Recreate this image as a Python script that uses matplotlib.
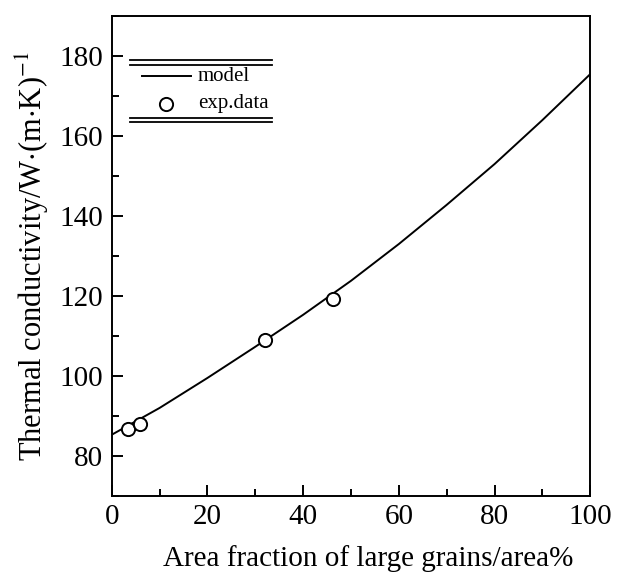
import numpy as np
import matplotlib.pyplot as plt
from matplotlib.lines import Line2D
from matplotlib.ticker import MultipleLocator

# model curve
model_x = [0, 10, 20, 30, 40, 50, 60, 70, 80, 90, 100]
model_y = [85.3, 92.0, 99.5, 107.3, 115.3, 123.8, 133.0, 142.8, 153.0, 164.0, 175.5]

# experimental points
exp_x = [3.4, 5.9, 32.0, 46.3]
exp_y = [86.8, 87.9, 109.0, 119.2]

plt.rcParams["font.family"] = ["Liberation Serif", "DejaVu Serif"]
plt.rcParams["mathtext.fontset"] = "stix"

fig = plt.figure(figsize=(6.24, 5.74), dpi=100)
ax = fig.add_axes([0.179, 0.136, 0.767, 0.836])

ax.plot(model_x, model_y, color="black", linewidth=1.4)
ax.plot(exp_x, exp_y, linestyle="none", marker="o", markersize=9.5,
        markerfacecolor="white", markeredgecolor="black", markeredgewidth=1.4)

ax.set_xlim(0, 100)
ax.set_ylim(70, 190)
ax.xaxis.set_major_locator(MultipleLocator(20))
ax.xaxis.set_minor_locator(MultipleLocator(10))
ax.set_yticks([80, 100, 120, 140, 160, 180])
ax.yaxis.set_minor_locator(MultipleLocator(10))
ax.tick_params(which="both", direction="in", top=False, right=False, width=1.4)
ax.tick_params(which="major", length=8, labelsize=21, pad=6)
ax.tick_params(which="minor", length=5)
for s in ax.spines.values():
    s.set_linewidth(1.4)

ax.set_xlabel("Area fraction of large grains/area%", fontsize=21, va="baseline")
ax.xaxis.set_label_coords(0.535, -0.146)
ax.set_ylabel(r"Thermal conductivity/W$\cdot$(m$\cdot$K)$^{-1}$", fontsize=22, labelpad=6)

# hand-made legend: double rules above and below, line + circle entries
tr = ax.transAxes
for yy in (0.908, 0.899, 0.788, 0.779):
    ax.add_line(Line2D([0.038, 0.335], [yy, yy], transform=tr,
                       color="black", linewidth=1.3))
ax.add_line(Line2D([0.063, 0.165], [0.875, 0.875], transform=tr,
                   color="black", linewidth=1.4))
ax.text(0.180, 0.875, "model", transform=tr, fontsize=15, va="center", ha="left")
ax.plot([0.114], [0.817], transform=tr, linestyle="none", marker="o", markersize=9.5,
        markerfacecolor="white", markeredgecolor="black", markeredgewidth=1.4)
ax.text(0.180, 0.817, "exp.data", transform=tr, fontsize=15, va="center", ha="left")

fig.savefig("out.png", dpi=100)
